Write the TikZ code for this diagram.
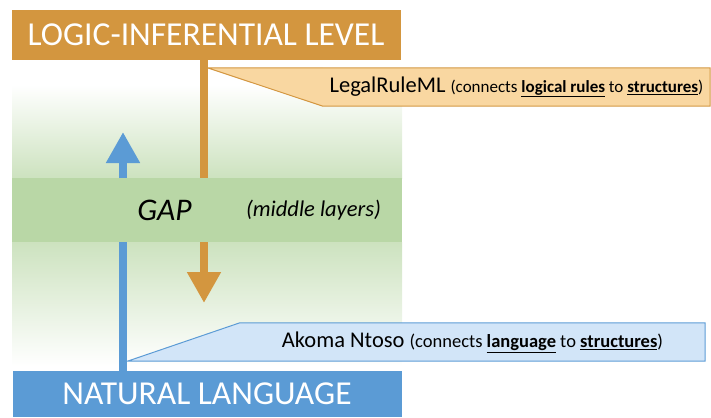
\documentclass[tikz,border=0pt]{standalone}
\usepackage{fontspec}
\setmainfont{Carlito}
\usetikzlibrary{arrows.meta, positioning}
\definecolor{logicorange}{HTML}{D3963F}
\definecolor{notelight}{HTML}{F9D7A1}
\definecolor{langblue}{HTML}{5B9BD5}
\definecolor{noteblue}{HTML}{D2E5F8}
\definecolor{gapgreen}{HTML}{B9D7A6}
\newcommand{\keyword}[1]{\underline{\textbf{#1}}}

\begin{document}
\begin{tikzpicture}[x=1pt, y=-1pt,
    level/.style={rectangle, text=white, inner sep=0pt, minimum width=389pt, minimum height=50pt, font=\fontsize{33.5}{40}\selectfont},
    note/.style={rectangle, inner sep=0pt, minimum height=38pt, text=black},
    shaft/.style={line width=8pt},
    head/.style={-{Triangle[width=32pt, length=31pt]}}
  ]
  \useasboundingbox (0,0) rectangle (711,417);
  \def\outline{1pt}
  % the gap
  \shade[top color=white, bottom color=gapgreen!72] (12,85) rectangle (402,178);
  \fill[gapgreen] (12,178) rectangle (402,242);
  \shade[top color=gapgreen!72, bottom color=white] (12,242) rectangle (402,366);
  \coordinate (gaptop) at (0,178);
  \coordinate (gapbot) at (0,242);

  \node[level, fill=logicorange] (L) at (206,35) {LOGIC-INFERENTIAL LEVEL};
  \node[level, fill=langblue, minimum height=46pt] (N) at (207,394) {NATURAL LANGUAGE};
  \node[font=\fontsize{31.5}{36}\selectfont\itshape] (G) at (164.5,210) {GAP};
  \node[font=\fontsize{22.5}{26}\selectfont\itshape] (M) at (313.5,210) {(middle layers)};

  % callouts
  \node[note, fill=notelight, minimum width=387pt] (R) at (516.5,87)
    {{\fontsize{22.5}{26}\selectfont LegalRuleML }{\fontsize{17}{20}\selectfont(connects \keyword{logical rules} to \keyword{structures})}};
  \coordinate (Rtip) at (208,68);
  \fill[notelight] (Rtip) -- (R.north west) -- (R.south west) -- cycle;
  \draw[logicorange, line width=\outline] (Rtip) -- (R.north east) -- (R.south east) -- (R.south west) -- cycle;

  \node[note, fill=noteblue, minimum width=465pt] (A) at (472.5,342)
    {{\fontsize{22.5}{26}\selectfont Akoma Ntoso }{\fontsize{18.5}{22}\selectfont(connects \keyword{language} to \keyword{structures})}};
  \coordinate (Atip) at (128,361);
  \fill[noteblue] (Atip) -- (A.north west) -- (A.south west) -- cycle;
  \draw[langblue, line width=\outline] (Atip) -- (A.north west) -- (A.north east) -- (A.south east) -- cycle;

  % arrows
  \draw[shaft, logicorange] ([xshift=-2pt]L.south) -- ([xshift=-2pt]L.south |- gaptop);
  \draw[shaft, head, logicorange] ([xshift=-2pt]L.south |- gapbot) -- ++(0,61);
  \draw[shaft, langblue] ([xshift=-84pt]N.north) -- ([xshift=-84pt]N.north |- gapbot);
  \draw[shaft, head, langblue] ([xshift=-84pt]N.north |- gaptop) -- ++(0,-46);
\end{tikzpicture}
\end{document}
